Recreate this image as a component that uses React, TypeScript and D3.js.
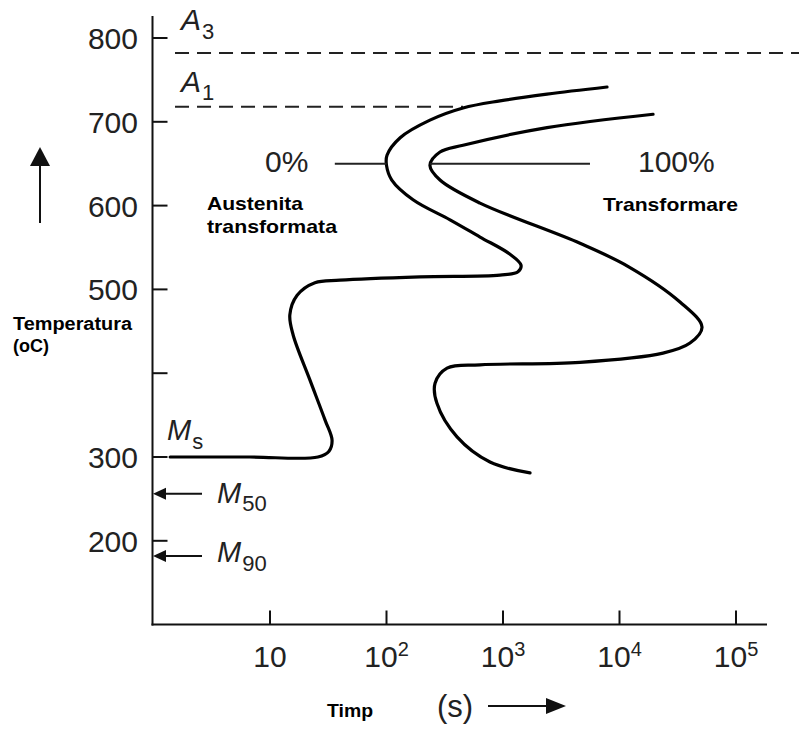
import React from 'react';
import * as d3 from 'd3';

const W = 799;
const H = 746;

// Axis ticks
const xTicks = [10, 100, 1000, 10000, 100000];
const xTickExp = ['', '2', '3', '4', '5'];
const yTicks = [800, 700, 600, 500, 400, 300, 200];
const yTickLabels = ['800', '700', '600', '500', '', '300', '200'];

// Start of transformation (0%) curve: time (s), temperature (°C)
const startTime = [7810, 2386, 942, 454, 236, 131, 101, 100, 111, 169, 351, 635, 1148, 1428, 1345, 942, 194, 39.9, 24.3, 17.1, 14.8, 15.8, 22.0, 29.7, 34.1, 32.1, 25.8, 6.7, 1.39];
const startTemp = [741.5, 733, 725, 716.5, 702, 681, 660, 648, 630.5, 607, 583, 562.5, 542, 529, 521, 517, 515, 511, 508, 493, 469.5, 445.6, 392, 344, 320, 307, 300, 300, 300];

// End of transformation (100%) curve
const finishTime = [19400, 2386, 454, 288, 236, 288, 635, 4580, 12000, 33050, 51070, 40290, 23620, 4580, 635, 331, 261, 271, 403, 773, 1706];
const finishTemp = [709, 693, 672, 664, 648, 630.5, 603, 555, 527, 485, 455, 436, 424, 413, 410, 406, 388, 364, 324, 294, 281];

// Critical temperatures
const A3 = 782;
const A1 = 718;
const M50 = 256;
const M90 = 182;
const refTemp = 650;
const zeroLine = [36, 100];
const hundredLine = [236, 5580];
const dashStart = 1.53;
const a1End = 454;
const a3End = 350000;

const FONT = "'Liberation Sans', Arial, Helvetica, sans-serif";

export default function App() {
  const x = d3.scaleLog().domain([1, 1e5]).range([153.5, 736]);
  const y = d3.scaleLinear().domain([100, 800]).range([624.6, 38]);

  const line = d3
    .line<[number, number]>()
    .x((d) => x(d[0]))
    .y((d) => y(d[1]))
    .curve(d3.curveCatmullRom.alpha(0.5));

  const startPts: [number, number][] = startTime.map((t, i) => [t, startTemp[i]]);
  const finishPts: [number, number][] = finishTime.map((t, i) => [t, finishTemp[i]]);

  const axisX = 152.5;
  const axisY = 624.5;

  return (
    <svg
      width={W}
      height={H}
      style={{ position: 'absolute', left: 0, top: 0, background: '#fff' }}
      fontFamily={FONT}
    >
      <rect width={W} height={H} fill="#fff" />
      {/* axes */}
      <line x1={axisX} y1={16} x2={axisX} y2={axisY + 1} stroke="#111" strokeWidth={2} />
      <line x1={axisX - 1} y1={axisY} x2={767} y2={axisY} stroke="#111" strokeWidth={2} />

      {/* y ticks */}
      {yTicks.map((v, i) => (
        <g key={v}>
          <line x1={axisX} x2={axisX + 15} y1={y(v)} y2={y(v)} stroke="#111" strokeWidth={2} />
          {yTickLabels[i] && (
            <text x={138} y={y(v) + 11} fontSize={30} textAnchor="end" fill="#222">
              {yTickLabels[i]}
            </text>
          )}
        </g>
      ))}

      {/* x ticks */}
      {xTicks.map((v, i) => (
        <g key={v}>
          <line x1={x(v)} x2={x(v)} y1={axisY} y2={axisY - 14} stroke="#111" strokeWidth={2} />
          <text x={x(v)} y={667} fontSize={30} textAnchor="middle" fill="#222">
            10
            {xTickExp[i] && (
              <tspan fontSize={20} dy={-11}>
                {xTickExp[i]}
              </tspan>
            )}
          </text>
        </g>
      ))}

      {/* dashed critical lines */}
      <line x1={x(dashStart)} x2={x(a3End)} y1={y(A3)} y2={y(A3)} stroke="#222" strokeWidth={2} strokeDasharray="14,8" />
      <line x1={x(dashStart)} x2={x(a1End)} y1={y(A1)} y2={y(A1)} stroke="#222" strokeWidth={2} strokeDasharray="14,8" />
      <text x={181} y={30} fontSize={30} fontStyle="italic" fill="#222">
        A
        <tspan fontStyle="normal" fontSize={22} dx={1} dy={9}>3</tspan>
      </text>
      <text x={181} y={92} fontSize={30} fontStyle="italic" fill="#222">
        A
        <tspan fontStyle="normal" fontSize={22} dx={1} dy={8}>1</tspan>
      </text>

      {/* curves */}
      <path d={line(startPts) || ''} fill="none" stroke="#000" strokeWidth={3.2} strokeLinecap="round" />
      <path d={line(finishPts) || ''} fill="none" stroke="#000" strokeWidth={3.2} strokeLinecap="round" />

      {/* 0% and 100% pointers */}
      <line x1={x(zeroLine[0])} x2={x(zeroLine[1])} y1={y(refTemp)} y2={y(refTemp)} stroke="#222" strokeWidth={2} />
      <line x1={x(hundredLine[0])} x2={x(hundredLine[1])} y1={y(refTemp)} y2={y(refTemp)} stroke="#222" strokeWidth={2} />
      <text x={265} y={172} fontSize={30} fill="#222">0%</text>
      <text x={638} y={172} fontSize={30} fill="#222">100%</text>

      {/* bold annotations */}
      <text x={207} y={210} fontSize={18.5} fontWeight="bold" textLength={96} lengthAdjust="spacingAndGlyphs">Austenita</text>
      <text x={207} y={233} fontSize={18.5} fontWeight="bold" textLength={130} lengthAdjust="spacingAndGlyphs">transformata</text>
      <text x={603} y={211} fontSize={18.5} fontWeight="bold" textLength={135} lengthAdjust="spacingAndGlyphs">Transformare</text>
      <text x={13} y={330} fontSize={18} fontWeight="bold" textLength={119} lengthAdjust="spacingAndGlyphs">Temperatura</text>
      <text x={13} y={352} fontSize={18} fontWeight="bold">(oC)</text>
      <text x={327} y={717} fontSize={18.5} fontWeight="bold" textLength={46} lengthAdjust="spacingAndGlyphs">Timp</text>

      {/* up arrow */}
      <line x1={40} x2={40} y1={223} y2={160} stroke="#111" strokeWidth={2} />
      <polygon points="30,166 40,147 50,166" fill="#111" />

      {/* (s) arrow */}
      <text x={437} y={717} fontSize={31} fill="#222">(s)</text>
      <line x1={488} x2={552} y1={706} y2={706} stroke="#111" strokeWidth={2} />
      <polygon points="546,698 566,706 546,714" fill="#111" />

      {/* Ms, M50, M90 */}
      <text x={167} y={440} fontSize={29} fontStyle="italic" fill="#222">
        M
        <tspan fontStyle="normal" fontSize={22} dx={1} dy={9}>s</tspan>
      </text>
      <line x1={162} x2={202} y1={y(M50)} y2={y(M50)} stroke="#111" strokeWidth={2} />
      <polygon points={`153,${y(M50)} 166,${y(M50) - 6} 166,${y(M50) + 6}`} fill="#111" />
      <text x={217} y={503} fontSize={29} fontStyle="italic" fill="#222">
        M
        <tspan fontStyle="normal" fontSize={22} dx={1} dy={8}>50</tspan>
      </text>
      <line x1={162} x2={202} y1={y(M90)} y2={y(M90)} stroke="#111" strokeWidth={2} />
      <polygon points={`153,${y(M90)} 166,${y(M90) - 6} 166,${y(M90) + 6}`} fill="#111" />
      <text x={217} y={562} fontSize={29} fontStyle="italic" fill="#222">
        M
        <tspan fontStyle="normal" fontSize={22} dx={1} dy={9}>90</tspan>
      </text>
    </svg>
  );
}
